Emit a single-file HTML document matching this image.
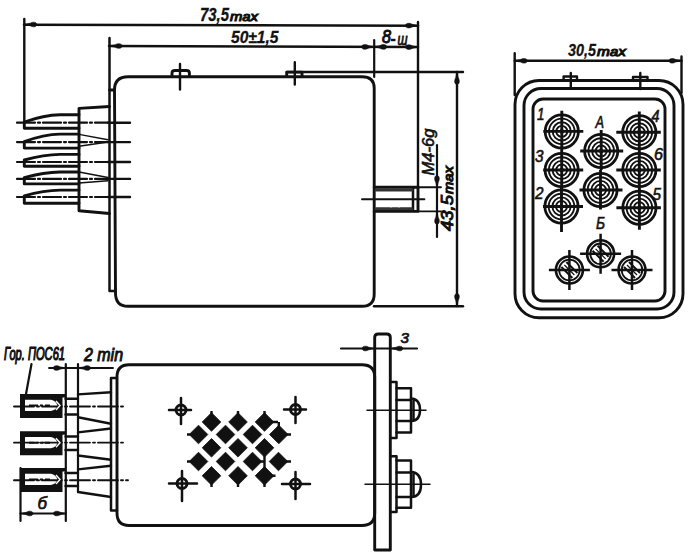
<!DOCTYPE html>
<html><head><meta charset="utf-8">
<style>
html,body{margin:0;padding:0;background:#fff;width:700px;height:558px;overflow:hidden}
svg{display:block}
text{font-family:"Liberation Sans",sans-serif;font-style:italic;font-weight:bold;fill:#111;stroke:#111}
</style></head>
<body>
<svg width="700" height="558" viewBox="0 0 700 558">
<defs>
<path id="ar" d="M0 0 L-6 -1.3 C-8 -2.8 -12.5 -2.8 -12.5 0 C-12.5 2.8 -8 2.8 -6 1.3 Z" fill="#111" stroke="#111" stroke-width="0.6"/>
<g id="big">
<circle r="16.6" fill="none" stroke="#111" stroke-width="2.8"/>
<circle r="12.8" fill="none" stroke="#111" stroke-width="1.9"/>
<circle r="9.1" fill="none" stroke="#111" stroke-width="1.9"/>
<circle r="5.5" fill="none" stroke="#111" stroke-width="1.9"/>
<circle r="2.3" fill="#111"/>
</g>
<g id="small">
<circle r="13.5" fill="none" stroke="#111" stroke-width="2.6"/>
<circle r="10.3" fill="none" stroke="#111" stroke-width="1.8"/>
<path d="M-8 -3 L3 8 M-3 -8 L8 3" stroke="#111" stroke-width="2"/>
<path d="M-5 -5 L5 5" stroke="#111" stroke-width="1.2"/>
<path d="M-20.5 0 H20.5 M0 -20 V20" stroke="#111" stroke-width="2.5"/>
</g>
<path id="dm" d="M0 -9.3 L9.3 0 L0 9.3 L-9.3 0 Z" stroke="#111" stroke-width="0.8" stroke-linejoin="round"/>
<g id="cup">
<path d="M20 394 H66 V397.5 H62.5 V418 H20 Z M25 399.8 H51 Q56 401 57.5 405.5 Q56 410 51 411 H25 Z" fill="#111" fill-rule="evenodd" stroke="none"/>
<path d="M56 401 L60 405.5 L56 410" fill="none" stroke="#fff" stroke-width="1.4"/>
<path d="M29 405.5 H50" stroke="#111" stroke-width="1.9" fill="none" stroke-dasharray="9 2 3 2"/>
</g>
</defs>
<g fill="none" stroke="#111" stroke-width="2.4" stroke-linecap="round" stroke-linejoin="round">

<!-- ===== TOP-LEFT VIEW ===== -->
<path d="M24.3 19 V122" stroke-width="2.4"/>
<path d="M24 24.7 L418 25.7" stroke-width="2.6"/>
<path d="M418 22 V188" stroke-width="2.4"/>
<path d="M109.5 38 V291 H115.5" stroke-width="2.5"/>
<path d="M109 46 L418 47.1" stroke-width="2.5"/>
<path d="M374.2 40 V77" stroke-width="2.2"/>
<!-- body -->
<path d="M109.5 90 H114.5 Q114.5 76.7 128 76.7 H362 Q374.2 76.7 374.2 88 V294 Q374.2 306.3 362 306.3 H128 Q115.5 306.3 115.5 293 L114.5 90" stroke-width="2.9"/>
<path d="M287 72 H463" stroke-width="2.4"/>
<path d="M374 306.3 H463" stroke-width="2.4"/>
<path d="M180 64 V89.5 M294.8 62.3 V84.6" stroke-width="2.4"/>
<path d="M172 76.5 V73 Q172 70.5 175 70.5 H186.5 Q189.4 70.5 189.4 73 V76.5" stroke-width="2.9"/>
<path d="M286.7 76.5 V72.1 H302 V76.5" stroke-width="2.9"/>
<!-- flange block -->
<path d="M109.5 106.5 L79 108.4 V210.8 L109.5 213.5" stroke-width="2.9"/>
<g stroke-width="2.9">
<path d="M79 114.7 H60 Q44 114.9 24.3 122 V128.2 H79"/>
<path d="M79 134.1 H60 Q44 134.3 24.3 141.6 V148.1 H79"/>
<path d="M79 154.4 H60 Q44 154.6 24.3 160 V166.3 H79"/>
<path d="M79 172 H60 Q44 172.2 24.3 177.6 V183.9 H79"/>
<path d="M79 190.1 H60 Q44 190.3 24.3 195.8 V203.3 H79"/>
</g>
<g stroke-width="1.4">
<path d="M79 134.4 L108 139.8 M79 146.3 L108 142"/>
<path d="M79 172 L108 177.5 M79 183 L108 180.7"/>
</g>
<g stroke-width="2.2" stroke-dasharray="18 3 2 3">
<path d="M17 122.7 H108"/>
<path d="M17 142.1 H108"/>
<path d="M17 162 H108"/>
<path d="M17 178.9 H108"/>
<path d="M17 197 H108"/>
</g>
<path stroke-width="2.4" d="M108 122.7 H130 M108 142.1 H130 M108 162 H130 M108 178.9 H130 M108 197 H130"/>
<!-- stud -->
<path d="M374.2 187.2 H418 V211.4 H374.2" stroke-width="2.9"/>
<path d="M413 188.5 V210.5" stroke-width="2.5"/>
<path d="M376 190 H412 M376 208.7 H412" stroke-width="3" stroke="#333" stroke-dasharray="14 2 6 2"/>
<path d="M362 199.3 H424.4" stroke-width="1.9"/>
<path d="M418 187.2 H441 M418 211.4 H441" stroke-width="1.9"/>
<path d="M437 145 V237" stroke-width="2.2"/>
<path d="M457 72 V306" stroke-width="2.4"/>

<!-- ===== TOP-RIGHT VIEW ===== -->
<path d="M514.7 53.3 V95 M681.5 56.5 V93" stroke-width="2.4"/>
<path d="M514.7 60.8 H681.5" stroke-width="2.4"/>
<rect x="515" y="80.5" width="168" height="237.3" rx="24" stroke-width="2.9"/>
<rect x="524" y="88.5" width="150" height="220.5" rx="17" stroke-width="2.9"/>
<rect x="533" y="99" width="132" height="202" rx="10" stroke-width="2.9"/>
<path d="M570.8 73 V88 M640.3 73 V89" stroke-width="2.4"/>
<path d="M563.6 80 V76.5 H577 V80 M633 80.5 V77 H647.5 V80.5" stroke-width="2.4"/>

<!-- ===== BOTTOM VIEW ===== -->
<path d="M117 377 Q117 364.7 129 364.7 H362 Q374.7 364.7 374.7 377 V513 Q374.7 525.5 362 525.5 H129 Q117 525.5 117 513 V377" stroke-width="2.9"/>
<path d="M117 378 H111 V510.5 H117" stroke-width="2.5"/>
<path d="M374.7 550 V337.5 Q374.7 334 378.2 334 H386.8 Q390.3 334 390.3 337.5 V550 Z" stroke-width="2.9"/>
<g stroke-width="2.5">
<path d="M390.3 382 H396.5 V438 H390.3"/>
<path d="M396.5 388.3 H411 V432.5 H396.5 M396.5 400 H411 M396.5 421 H411"/>
<path d="M411 398.5 Q420 399 420 410 Q420 421 411 421 M413.5 400 V420"/>
<path d="M390.3 456.3 H396.5 V512 H390.3"/>
<path d="M396.5 460.5 H411 V507.8 H396.5 M396.5 472.4 H411 M396.5 497 H411"/>
<path d="M411 472 Q421 472.5 421 484.5 Q421 497 411 497 M413.5 473 V496"/>
</g>
<path d="M367 410.2 H426 M365 484.2 H430" stroke-width="1.5"/>
<path d="M341 348.5 H417" stroke-width="2.2"/>

<!-- terminals -->
<g stroke-width="2.4">
<path d="M65.5 398.7 H78 M65.5 414.5 H78"/>
<path d="M65.5 436.5 H78 M65.5 450 H78"/>
<path d="M65.5 473 H78 M65.5 486 H78"/>
<path d="M78 394.4 L111 392.3 M78 417.3 L111 423.8"/>
<path d="M78 432.4 L111 428.5 M78 455.5 L111 459.8"/>
<path d="M78 469.4 L111 465.8 M78 492 L111 497"/>
</g>
<path d="M65.8 364 V521 M78 364 V492" stroke-width="2.2"/>
<path d="M49 368 H113" stroke-width="1.9"/>
<path d="M31.5 364 L26 394" stroke-width="2.2"/>
<path d="M20.5 468 V521" stroke-width="2.2"/>
<path d="M20.5 513.5 H66" stroke-width="2.2"/>
<g stroke-width="1.9" stroke-dasharray="20 3 2 3">
<path d="M14 406.5 H125"/>
<path d="M14 442.6 H125"/>
<path d="M14 480.3 H128"/>
</g>
<g stroke-width="2.9">
<circle cx="181" cy="410" r="5"/><path d="M169 410 H191 M181 398 V424" stroke-width="2.5"/>
<circle cx="182" cy="483.5" r="5"/><path d="M169 483.5 H197 M182 471 V501" stroke-width="2.5"/>
<circle cx="295.5" cy="409.5" r="5"/><path d="M284 409.5 H306 M295.5 397 V423" stroke-width="2.5"/>
<circle cx="295.5" cy="484" r="5"/><path d="M282 484 H310 M295.5 472 V499" stroke-width="2.5"/>
</g>
</g>

<use href="#cup"/>
<use href="#cup" y="37.2"/>
<use href="#cup" y="74"/>

<!-- arrows -->
<use href="#ar" transform="translate(24.3 24.5) rotate(180)"/>
<use href="#ar" transform="translate(418 25.6)"/>
<use href="#ar" transform="translate(109.5 46) rotate(180)"/>
<use href="#ar" transform="translate(374.2 46.9)"/>
<use href="#ar" transform="translate(374.2 46.9) rotate(180)"/>
<use href="#ar" transform="translate(418 47.1)"/>
<use href="#ar" transform="translate(457 72) rotate(-90)"/>
<use href="#ar" transform="translate(457 306) rotate(90)"/>
<use href="#ar" transform="translate(437 188) rotate(90)"/>
<use href="#ar" transform="translate(437 211.7) rotate(-90)"/>
<use href="#ar" transform="translate(514.7 60.8) rotate(180)"/>
<use href="#ar" transform="translate(681.5 60.8)"/>
<use href="#ar" transform="translate(65.8 368)"/>
<use href="#ar" transform="translate(78 368) rotate(180)"/>
<use href="#ar" transform="translate(374.7 348.5)"/>
<use href="#ar" transform="translate(390.3 348.5) rotate(180)"/>
<use href="#ar" transform="translate(20.5 513.5) rotate(180)"/>
<use href="#ar" transform="translate(66 513.5)"/>

<!-- diamonds -->
<g fill="#111" stroke="none">
<use href="#dm" x="211.5" y="422"/>
<use href="#dm" x="238" y="422"/>
<use href="#dm" x="264.5" y="422"/>
<use href="#dm" x="198.5" y="434.5"/>
<use href="#dm" x="225.5" y="434.5"/>
<use href="#dm" x="252.5" y="434.5"/>
<use href="#dm" x="278.8" y="434.5"/>
<use href="#dm" x="211.5" y="447.8"/>
<use href="#dm" x="238" y="447.8"/>
<use href="#dm" x="264.5" y="447.8"/>
<use href="#dm" x="198.5" y="461.5"/>
<use href="#dm" x="225.5" y="461.5"/>
<use href="#dm" x="252.5" y="461.5"/>
<use href="#dm" x="278.5" y="461.5"/>
<use href="#dm" x="211.5" y="475.8"/>
<use href="#dm" x="238" y="475.8"/>
<use href="#dm" x="264.5" y="475.8"/>
</g>
<path fill="none" stroke="#111" stroke-width="2.4" d="M211.5 411 V420 M238 411 V420 M264.5 411 V420
M211.5 478 V487 M238 478 V487 M264.5 478 V487
M187 434.5 H196 M187 461.5 H196 M281 434.5 H291 M281 461.5 H291
M264.5 422 H278 M278.8 422 V432 M264.5 440 V468 M252.5 461.5 H264 M264.5 475.8 H275.5"/>
<use href="#big" x="561.8" y="131.4"/>
<use href="#big" x="561.7" y="170"/>
<use href="#big" x="561.5" y="206.5"/>
<use href="#big" x="601.2" y="151"/>
<use href="#big" x="600.5" y="190"/>
<use href="#big" x="639.3" y="132.3"/>
<use href="#big" x="639.3" y="170"/>
<use href="#big" x="639.4" y="207.7"/>
<path fill="none" stroke="#111" stroke-width="2.9" d="
M543.3 131.4 H583.3 M561.8 110.8 V150
M543.2 170 H583.2 M561.7 150 V189
M543 206.5 H583 M561.5 187 V232
M580.2 151 H623.2 M601.2 130 V170
M579.5 190 H622.5 M600.5 170 V209.6
M616.3 132.3 H660.8 M639.3 111.5 V151
M616.3 170 H660.8 M639.3 150 V189
M616.4 207.7 H660.9 M639.4 188 V229.8"/>
<use href="#small" x="600.6" y="253.8"/>
<use href="#small" x="569.4" y="270"/>
<use href="#small" x="632" y="270"/>

<!-- texts -->
<text x="200" y="21.4" font-size="17.5" textLength="29" lengthAdjust="spacingAndGlyphs" stroke-width="0.3">73,5</text>
<text x="230" y="21.4" font-size="13.5" textLength="28" lengthAdjust="spacingAndGlyphs" style="font-weight:normal" stroke-width="1.1">max</text>
<text x="231" y="42.5" font-size="16" textLength="47.5" lengthAdjust="spacingAndGlyphs" stroke-width="0.3">50±1,5</text>
<text x="382" y="42.5" font-size="17.5" textLength="9" lengthAdjust="spacingAndGlyphs" style="font-weight:normal" stroke-width="1">8</text>
<path d="M391 40 H395.5" stroke="#111" stroke-width="2.4"/><text x="397.5" y="44.6" font-size="17" textLength="10" lengthAdjust="spacingAndGlyphs" style="font-weight:normal" stroke-width="0.9">ш</text>
<text x="568" y="55.5" font-size="17" textLength="28" lengthAdjust="spacingAndGlyphs" stroke-width="0.3">30,5</text>
<text x="597" y="55.7" font-size="13.5" textLength="29" lengthAdjust="spacingAndGlyphs" style="font-weight:normal" stroke-width="1.1">max</text>
<text transform="translate(433.5 175.5) rotate(-90)" font-size="16" textLength="47" lengthAdjust="spacingAndGlyphs" style="font-weight:normal" stroke-width="0.6">M4-6g</text>
<text transform="translate(453.4 231) rotate(-90)" font-size="16.5" textLength="36" lengthAdjust="spacingAndGlyphs" style="font-weight:normal" stroke-width="1">43,5</text>
<text transform="translate(453.4 194) rotate(-90)" font-size="13.5" textLength="28" lengthAdjust="spacingAndGlyphs" style="font-weight:normal" stroke-width="1.1">max</text>
<text x="4" y="360" font-size="17.8" textLength="61" lengthAdjust="spacingAndGlyphs" style="font-weight:normal" stroke-width="1.2">Гор. ПОС61</text>
<text x="84" y="360.5" font-size="18" textLength="39" lengthAdjust="spacingAndGlyphs" style="font-weight:normal" stroke-width="1">2 min</text>
<text x="400.5" y="342.5" font-size="15" textLength="8.5" lengthAdjust="spacingAndGlyphs" style="font-weight:normal" stroke-width="0.7">3</text>
<text x="37.5" y="509" font-size="17" textLength="9.5" lengthAdjust="spacingAndGlyphs" style="font-weight:normal" stroke-width="0.7">б</text>
<g style="font-weight:normal" font-size="16.5">
<text x="537" y="119.7" textLength="7.5" lengthAdjust="spacingAndGlyphs" style="font-weight:normal" stroke-width="0.6">1</text>
<text x="535" y="162" textLength="8.5" lengthAdjust="spacingAndGlyphs" style="font-weight:normal" stroke-width="0.6">3</text>
<text x="535" y="198.6" textLength="8.5" lengthAdjust="spacingAndGlyphs" style="font-weight:normal" stroke-width="0.6">2</text>
<text x="595.5" y="127.8" textLength="8.5" lengthAdjust="spacingAndGlyphs" style="font-weight:normal" stroke-width="0.6">A</text>
<text x="651.5" y="121.5" textLength="8" lengthAdjust="spacingAndGlyphs" style="font-weight:normal" stroke-width="0.6">4</text>
<text x="654" y="160" textLength="9" lengthAdjust="spacingAndGlyphs" style="font-weight:normal" stroke-width="0.6">6</text>
<text x="652.5" y="199.5" textLength="8.5" lengthAdjust="spacingAndGlyphs" style="font-weight:normal" stroke-width="0.6">5</text>
<text x="596" y="229" textLength="9" lengthAdjust="spacingAndGlyphs" style="font-weight:normal" stroke-width="0.6">Б</text>
</g>
</svg>
</body></html>
